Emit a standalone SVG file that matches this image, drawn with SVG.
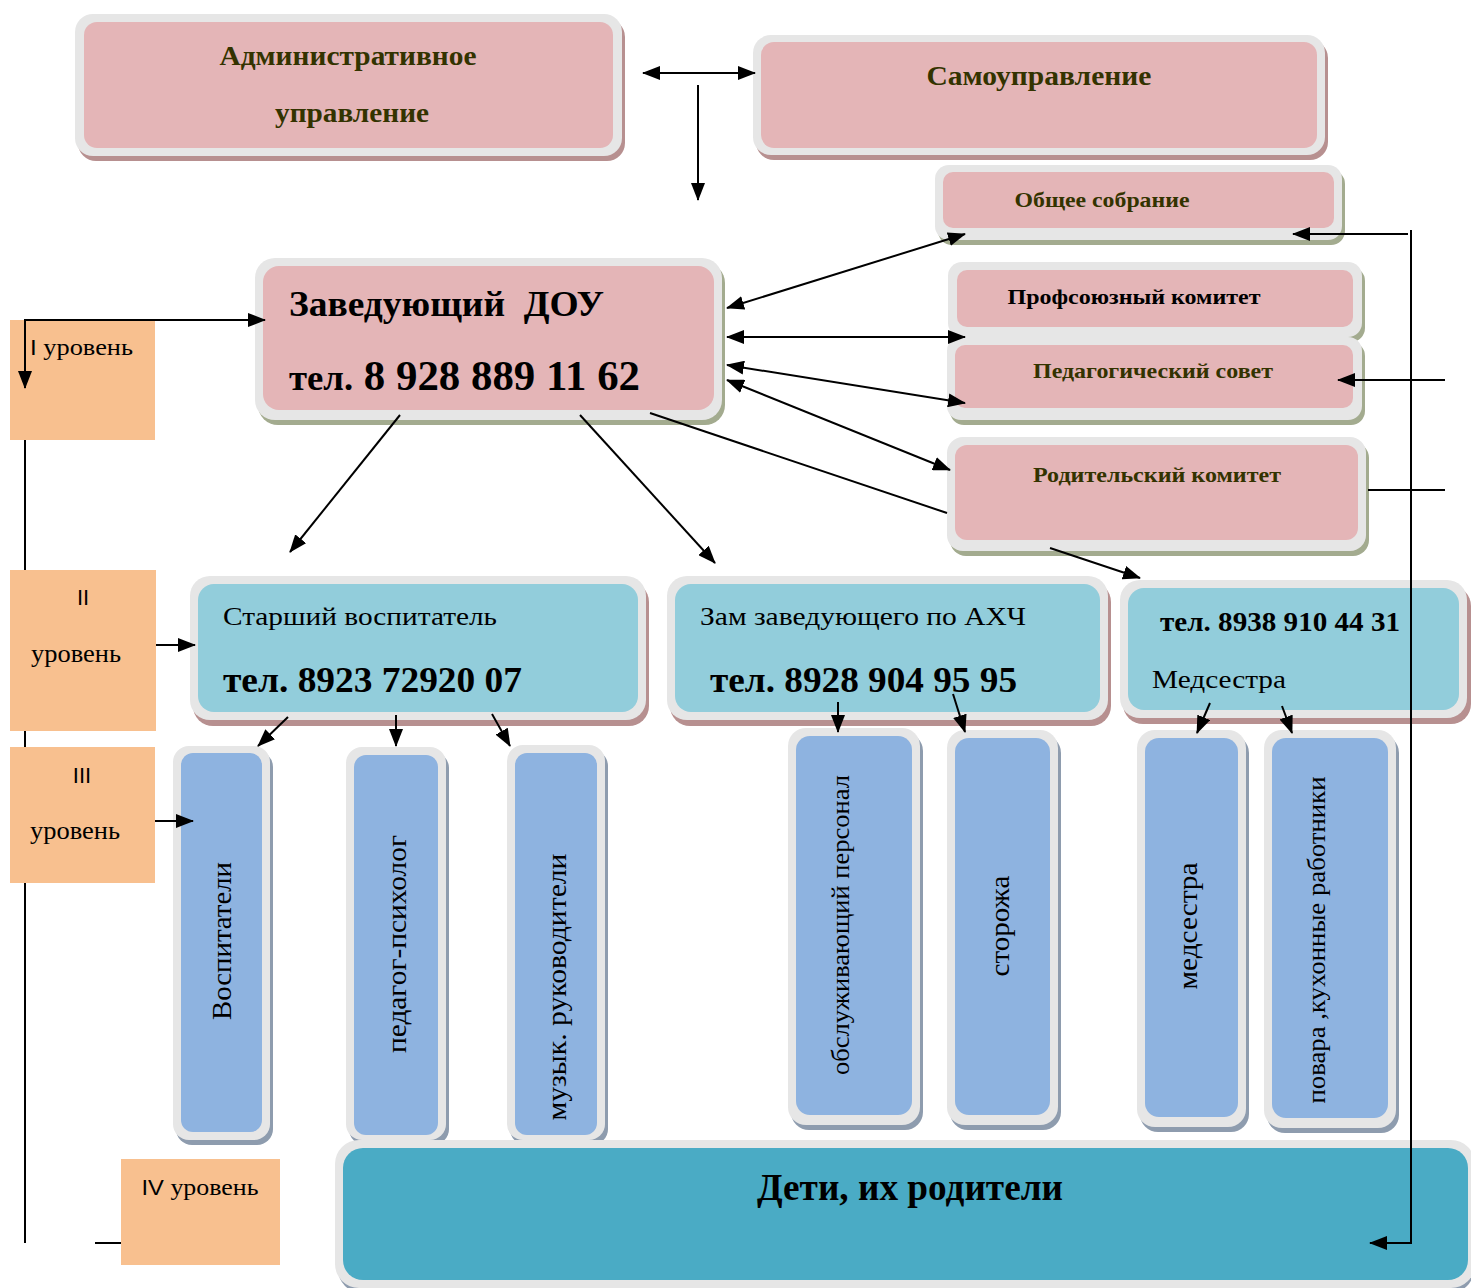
<svg xmlns="http://www.w3.org/2000/svg" width="1471" height="1288" viewBox="0 0 1471 1288">
<defs>
<marker id="ah" markerUnits="userSpaceOnUse" markerWidth="18" markerHeight="14" refX="17" refY="7" orient="auto-start-reverse">
<path d="M0,0 L18,7 L0,14 z" fill="#000"/>
</marker>
<style>
.frame{fill:#e6e6e6}
.shP{fill:#b79090}
.shG{fill:#a3ab8f}
.shB{fill:#8e9cae}
.pink{fill:#e4b5b7}
.lblue{fill:#92cddb}
.blue{fill:#8eb3e0}
.teal{fill:#4aabc5}
.lvl{fill:#f8c08f}
.ol{font-family:"Liberation Serif",serif;font-weight:bold;fill:#333300}
.bk{font-family:"Liberation Serif",serif;fill:#000}
.b{font-weight:bold}
.sans{font-family:"Liberation Sans",sans-serif}
.conn line,.conn path{stroke:#000;stroke-width:2;fill:none}
.arr{marker-end:url(#ah)}
.dbl{marker-start:url(#ah);marker-end:url(#ah)}
</style>
</defs>
<rect width="1471" height="1288" fill="#fff"/>

<g id="n-admin">
<rect class="shP" x="78" y="19" width="547" height="142" rx="18"/>
<rect class="frame" x="75" y="14" width="547" height="142" rx="18"/>
<rect class="pink" x="84" y="22" width="529" height="126" rx="13"/>
<text class="ol" x="348" y="65" font-size="28" text-anchor="middle" textLength="257" lengthAdjust="spacingAndGlyphs">Административное</text>
<text class="ol" x="352" y="122" font-size="28" text-anchor="middle" textLength="154" lengthAdjust="spacingAndGlyphs">управление</text>
</g>

<g id="n-self">
<rect class="shP" x="756" y="40" width="572" height="120" rx="18"/>
<rect class="frame" x="753" y="35" width="572" height="120" rx="18"/>
<rect class="pink" x="761" y="42" width="556" height="106" rx="13"/>
<text class="ol" x="1039" y="85" font-size="28" text-anchor="middle" textLength="225" lengthAdjust="spacingAndGlyphs">Самоуправление</text>
</g>

<g id="n-general">
<rect class="shG" x="938" y="170" width="407" height="75" rx="14"/>
<rect class="frame" x="935" y="165" width="407" height="75" rx="14"/>
<rect class="pink" x="943" y="172" width="391" height="56" rx="10"/>
<text class="ol" x="1102" y="207" font-size="22" text-anchor="middle" textLength="175" lengthAdjust="spacingAndGlyphs">Общее собрание</text>
</g>

<g id="n-head">
<rect class="shG" x="258" y="263" width="467" height="162" rx="20"/>
<rect class="frame" x="255" y="258" width="467" height="162" rx="20"/>
<rect class="pink" x="263" y="266" width="451" height="144" rx="16"/>
<text class="bk b" x="289" y="316" font-size="36" textLength="315" lengthAdjust="spacingAndGlyphs" xml:space="preserve">Заведующий  ДОУ</text>
<text class="bk b" x="289" y="390" font-size="42" textLength="351" lengthAdjust="spacingAndGlyphs"><tspan font-size="36">тел.</tspan> 8 928 889 11 62</text>
</g>

<g id="n-union">
<rect class="shG" x="951" y="267" width="414" height="75" rx="14"/>
<rect class="frame" x="948" y="262" width="414" height="75" rx="14"/>
<rect class="pink" x="957" y="270" width="396" height="57" rx="10"/>
<text class="bk b" x="1134" y="304" font-size="22" text-anchor="middle" textLength="253" lengthAdjust="spacingAndGlyphs">Профсоюзный комитет</text>
</g>

<g id="n-pedsovet">
<rect class="shG" x="950" y="342" width="415" height="83" rx="14"/>
<rect class="frame" x="947" y="337" width="415" height="83" rx="14"/>
<rect class="pink" x="955" y="345" width="398" height="63" rx="10"/>
<text class="ol" x="1153" y="378" font-size="22" text-anchor="middle" textLength="240" lengthAdjust="spacingAndGlyphs">Педагогический совет</text>
</g>

<g id="n-parents">
<rect class="shG" x="950" y="442" width="419" height="114" rx="16"/>
<rect class="frame" x="947" y="437" width="419" height="114" rx="16"/>
<rect class="pink" x="955" y="445" width="403" height="95" rx="12"/>
<text class="ol" x="1157" y="482" font-size="22" text-anchor="middle" textLength="248" lengthAdjust="spacingAndGlyphs">Родительский комитет</text>
</g>

<g id="n-lvl1">
<rect class="lvl" x="10" y="320" width="145" height="120"/>
<text class="bk" x="30" y="355" font-size="24" textLength="103" lengthAdjust="spacingAndGlyphs"><tspan class="sans" font-size="22">I</tspan> уровень</text>
</g>

<g id="n-lvl2">
<rect class="lvl" x="10" y="570" width="146" height="161"/>
<text class="bk sans" x="83" y="605" font-size="22" text-anchor="middle">II</text>
<text class="bk" x="76" y="662" font-size="26" text-anchor="middle" textLength="90" lengthAdjust="spacingAndGlyphs">уровень</text>
</g>

<g id="n-lvl3">
<rect class="lvl" x="10" y="747" width="145" height="136"/>
<text class="bk sans" x="82" y="783" font-size="22" text-anchor="middle">III</text>
<text class="bk" x="75" y="839" font-size="26" text-anchor="middle" textLength="90" lengthAdjust="spacingAndGlyphs">уровень</text>
</g>

<g id="n-lvl4">
<rect class="lvl" x="121" y="1159" width="159" height="106"/>
<text class="bk" x="200" y="1195" font-size="24" text-anchor="middle" textLength="117" lengthAdjust="spacingAndGlyphs"><tspan class="sans" font-size="22">IV</tspan> уровень</text>
</g>

<g id="n-senior">
<rect class="shP" x="193" y="582" width="456" height="144" rx="20"/>
<rect class="frame" x="190" y="576" width="456" height="144" rx="20"/>
<rect class="lblue" x="198" y="584" width="440" height="128" rx="16"/>
<text class="bk" x="223" y="625" font-size="26" textLength="274" lengthAdjust="spacingAndGlyphs">Старший воспитатель</text>
<text class="bk b" x="223" y="692" font-size="36" textLength="299" lengthAdjust="spacingAndGlyphs">тел. 8923 72920 07</text>
</g>

<g id="n-deputy">
<rect class="shP" x="670" y="582" width="441" height="144" rx="20"/>
<rect class="frame" x="667" y="576" width="441" height="144" rx="20"/>
<rect class="lblue" x="675" y="584" width="425" height="128" rx="16"/>
<text class="bk" x="700" y="625" font-size="26" textLength="326" lengthAdjust="spacingAndGlyphs">Зам заведующего по АХЧ</text>
<text class="bk b" x="710" y="692" font-size="36" textLength="307" lengthAdjust="spacingAndGlyphs">тел. 8928 904 95 95</text>
</g>

<g id="n-nurse">
<rect class="shP" x="1123" y="586" width="348" height="138" rx="20"/>
<rect class="frame" x="1120" y="580" width="347" height="138" rx="20"/>
<rect class="lblue" x="1128" y="588" width="331" height="122" rx="16"/>
<text class="bk b" x="1160" y="631" font-size="28" textLength="240" lengthAdjust="spacingAndGlyphs">тел. 8938 910 44 31</text>
<text class="bk" x="1152" y="688" font-size="26" textLength="134" lengthAdjust="spacingAndGlyphs">Медсестра</text>
</g>

<g id="n-educators">
<rect class="shB" x="176" y="751" width="97" height="394" rx="16"/>
<rect class="frame" x="173" y="746" width="97" height="394" rx="16"/>
<rect class="blue" x="181" y="753" width="81" height="379" rx="12"/>
<text class="bk" transform="translate(231,941) rotate(-90)" font-size="27" text-anchor="middle" textLength="158" lengthAdjust="spacingAndGlyphs">Воспитатели</text>
</g>

<g id="n-psych">
<rect class="shB" x="349" y="752" width="100" height="393" rx="16"/>
<rect class="frame" x="346" y="747" width="100" height="393" rx="16"/>
<rect class="blue" x="354" y="755" width="84" height="380" rx="12"/>
<text class="bk" transform="translate(406,944) rotate(-90)" font-size="27" text-anchor="middle" textLength="218" lengthAdjust="spacingAndGlyphs">педагог-психолог</text>
</g>

<g id="n-music">
<rect class="shB" x="510" y="750" width="98" height="395" rx="16"/>
<rect class="frame" x="507" y="745" width="98" height="395" rx="16"/>
<rect class="blue" x="515" y="753" width="82" height="382" rx="12"/>
<text class="bk" transform="translate(566,987) rotate(-90)" font-size="27" text-anchor="middle" textLength="267" lengthAdjust="spacingAndGlyphs">музык. руководители</text>
</g>

<g id="n-service">
<rect class="shB" x="791" y="733" width="132" height="397" rx="18"/>
<rect class="frame" x="788" y="728" width="132" height="397" rx="18"/>
<rect class="blue" x="796" y="736" width="116" height="379" rx="14"/>
<text class="bk" transform="translate(849,925) rotate(-90)" font-size="26" text-anchor="middle" textLength="300" lengthAdjust="spacingAndGlyphs">обслуживающий персонал</text>
</g>

<g id="n-guards">
<rect class="shB" x="950" y="735" width="111" height="395" rx="18"/>
<rect class="frame" x="947" y="730" width="111" height="395" rx="18"/>
<rect class="blue" x="955" y="738" width="95" height="377" rx="14"/>
<text class="bk" transform="translate(1009,926) rotate(-90)" font-size="27" text-anchor="middle" textLength="101" lengthAdjust="spacingAndGlyphs">сторожа</text>
</g>

<g id="n-nurse2">
<rect class="shB" x="1140" y="735" width="109" height="397" rx="18"/>
<rect class="frame" x="1137" y="730" width="109" height="397" rx="18"/>
<rect class="blue" x="1145" y="738" width="93" height="379" rx="14"/>
<text class="bk" transform="translate(1197,926) rotate(-90)" font-size="27" text-anchor="middle" textLength="127" lengthAdjust="spacingAndGlyphs">медсестра</text>
</g>

<g id="n-cooks">
<rect class="shB" x="1267" y="735" width="132" height="398" rx="18"/>
<rect class="frame" x="1264" y="730" width="132" height="398" rx="18"/>
<rect class="blue" x="1272" y="738" width="116" height="380" rx="14"/>
<text class="bk" transform="translate(1325,940) rotate(-90)" font-size="26" text-anchor="middle" textLength="327" lengthAdjust="spacingAndGlyphs">повара ,кухонные работники</text>
</g>

<g id="n-children">
<rect class="shB" x="338" y="1145" width="1136" height="148" rx="24"/>
<rect class="frame" x="335" y="1140" width="1140" height="148" rx="24"/>
<rect class="teal" x="343" y="1148" width="1125" height="132" rx="20"/>
<text class="bk b" x="910" y="1200" font-size="38" text-anchor="middle" textLength="306" lengthAdjust="spacingAndGlyphs">Дети, их родители</text>
</g>

<g id="connectors" class="conn">
<line class="dbl" x1="643" y1="73" x2="755" y2="73"/>
<line class="arr" x1="698" y1="85" x2="698" y2="200"/>
<path class="dbl" d="M25,388 L25,320 L265,320"/>
<line x1="25" y1="440" x2="25" y2="570"/>
<line x1="25" y1="731" x2="25" y2="747"/>
<line x1="25" y1="883" x2="25" y2="1243"/>
<line x1="95" y1="1243" x2="121" y2="1243" stroke-width="3"/>
<line class="arr" x1="156" y1="645" x2="195" y2="645"/>
<line class="arr" x1="155" y1="821" x2="193" y2="821"/>
<line class="dbl" x1="727" y1="308" x2="965" y2="234"/>
<line class="dbl" x1="727" y1="337" x2="965" y2="337"/>
<line class="dbl" x1="727" y1="365" x2="965" y2="403"/>
<line class="dbl" x1="727" y1="380" x2="950" y2="470"/>
<line x1="650" y1="413" x2="947" y2="513"/>
<line class="arr" x1="1050" y1="548" x2="1140" y2="578"/>
<line class="arr" x1="400" y1="415" x2="290" y2="552"/>
<line class="arr" x1="580" y1="415" x2="715" y2="563"/>
<line class="arr" x1="288" y1="717" x2="258" y2="746"/>
<line class="arr" x1="396" y1="715" x2="396" y2="746"/>
<line class="arr" x1="492" y1="714" x2="510" y2="746"/>
<line class="arr" x1="838" y1="702" x2="838" y2="732"/>
<line class="arr" x1="953" y1="694" x2="965" y2="732"/>
<line class="arr" x1="1210" y1="703" x2="1197" y2="733"/>
<line class="arr" x1="1282" y1="706" x2="1292" y2="733"/>
<line class="arr" x1="1408" y1="234" x2="1293" y2="234"/>
<path class="arr" d="M1411,230 L1411,1243 L1370,1243"/>
<line class="arr" x1="1445" y1="380" x2="1338" y2="380"/>
<line x1="1368" y1="490" x2="1445" y2="490"/>
</g>
</svg>
